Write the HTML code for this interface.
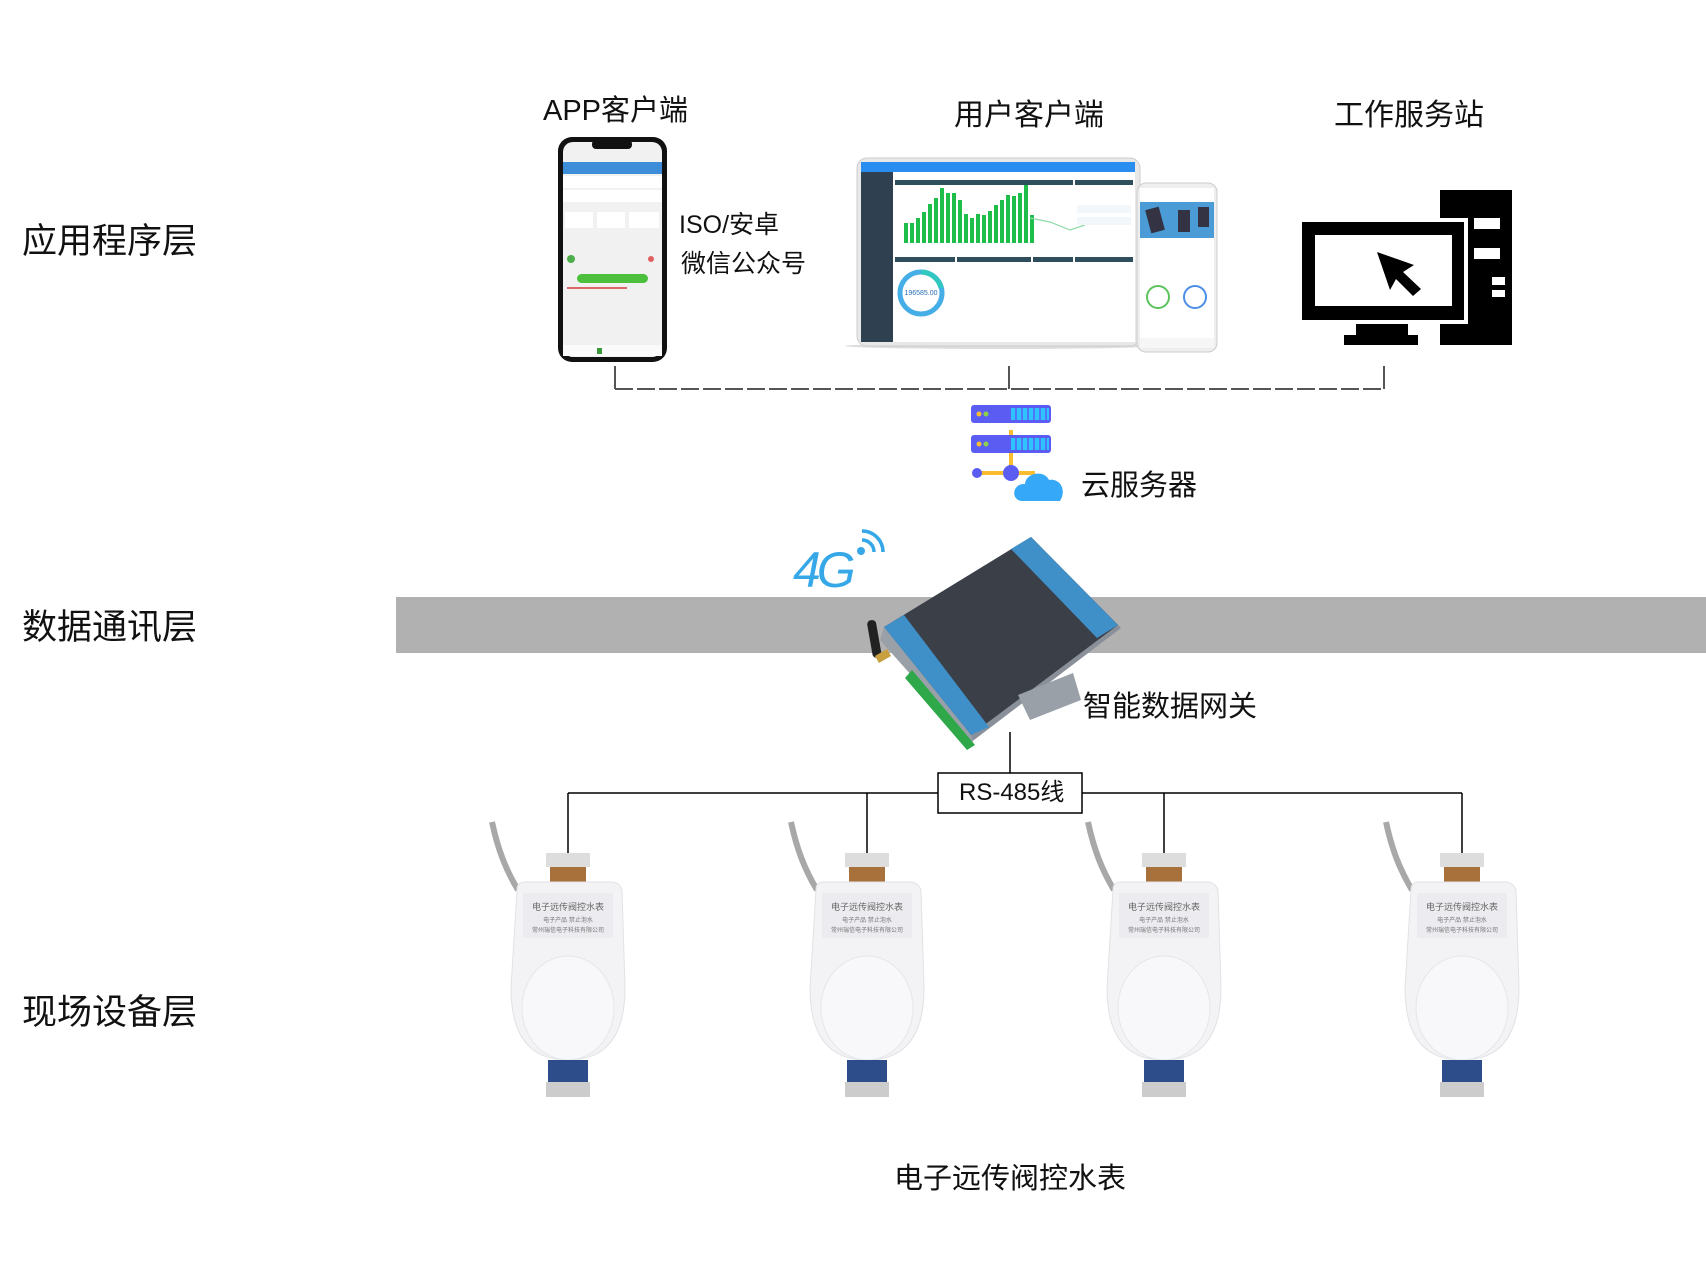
<!DOCTYPE html>
<html><head><meta charset="utf-8">
<style>
html,body{margin:0;padding:0;background:#fff;}
body{width:1706px;height:1279px;position:relative;overflow:hidden;font-family:"Liberation Sans","Noto Sans CJK SC",sans-serif;color:#111;}
.t{position:absolute;white-space:nowrap;line-height:1;}
svg{position:absolute;left:0;top:0;}
</style></head><body>
<svg width="1706" height="1279" viewBox="0 0 1706 1279">
  <rect x="396" y="597" width="1310" height="56" fill="#b1b1b1"/>
  <g stroke="#555" stroke-width="2" fill="none">
    <line x1="615" y1="366" x2="615" y2="389"/>
    <line x1="1009" y1="366" x2="1009" y2="389"/>
    <line x1="1384" y1="366" x2="1384" y2="389"/>
    <line x1="615" y1="389" x2="1384" y2="389" stroke-dasharray="18,4"/>
  </g>
  <rect x="558" y="137" width="109" height="225" rx="14" fill="#111"/>
  <rect x="563" y="142" width="99" height="215" rx="10" fill="#f1f1f1"/>
  <rect x="592" y="140" width="40" height="9" rx="4" fill="#111"/>
  <rect x="563" y="162" width="99" height="12" fill="#3d8ed8"/>
  <rect x="563" y="176" width="99" height="12" fill="#fff"/>
  <rect x="563" y="190" width="99" height="12" fill="#fff"/>
  <rect x="565" y="212" width="28" height="16" fill="#fff"/>
  <rect x="597" y="212" width="28" height="16" fill="#fff"/>
  <rect x="629" y="212" width="30" height="16" fill="#fff"/>
  <circle cx="571" cy="259" r="4" fill="#4cae4c"/>
  <circle cx="651" cy="259" r="3" fill="#e06060"/>
  <rect x="577" y="274" width="71" height="9" rx="4.5" fill="#4cbf3c"/>
  <rect x="567" y="287" width="60" height="2" fill="#d66"/>
  <rect x="563" y="345" width="99" height="11" fill="#fafafa"/>
  <rect x="597" y="348" width="5" height="6" fill="#3a9a3a"/>
  <ellipse cx="1000" cy="346" rx="155" ry="3" fill="#ddd"/>
  <rect x="857" y="158" width="283" height="188" rx="10" fill="#e8e8e8" stroke="#ccc"/>
  <rect x="861" y="162" width="274" height="180" fill="#fff"/>
  <rect x="861" y="162" width="274" height="10" fill="#2a8ef0"/>
  <rect x="861" y="172" width="32" height="170" fill="#2f4050"/>
  <rect x="895" y="180" width="178" height="5" fill="#2f4f5c"/>
  <rect x="1075" y="180" width="58" height="5" fill="#2f4f5c"/>
  <g fill="#1fbe4a">
    <rect x="904" y="223" width="4" height="20"/><rect x="910" y="223" width="4" height="20"/><rect x="916" y="218" width="4" height="25"/>
    <rect x="922" y="212" width="4" height="31"/><rect x="928" y="204" width="4" height="39"/><rect x="934" y="198" width="4" height="45"/>
    <rect x="940" y="188" width="4" height="55"/><rect x="946" y="193" width="4" height="50"/><rect x="952" y="193" width="4" height="50"/>
    <rect x="958" y="200" width="4" height="43"/><rect x="964" y="214" width="4" height="29"/><rect x="970" y="218" width="4" height="25"/>
    <rect x="976" y="214" width="4" height="29"/><rect x="982" y="215" width="4" height="28"/><rect x="988" y="211" width="4" height="32"/>
    <rect x="994" y="205" width="4" height="38"/><rect x="1000" y="200" width="4" height="43"/><rect x="1006" y="195" width="4" height="48"/>
    <rect x="1012" y="196" width="4" height="47"/><rect x="1018" y="193" width="4" height="50"/><rect x="1024" y="185" width="4" height="58"/>
    <rect x="1030" y="215" width="4" height="28"/>
  </g>
  <polyline points="1030,218 1050,222 1070,230 1085,225" fill="none" stroke="#8fd9a8" stroke-width="1.2"/>
  <rect x="895" y="257" width="60" height="5" fill="#2f4f5c"/><rect x="957" y="257" width="74" height="5" fill="#2f4f5c"/>
  <rect x="1033" y="257" width="40" height="5" fill="#2f4f5c"/><rect x="1075" y="257" width="58" height="5" fill="#2f4f5c"/>
  <circle cx="921" cy="293" r="21" fill="none" stroke="#46aee6" stroke-width="5"/>
  <path d="M921 272 A21 21 0 0 1 941 288" fill="none" stroke="#30c8c0" stroke-width="5"/>
  <text x="921" y="295" font-size="7" text-anchor="middle" fill="#2a6fb0">196585.00</text>
  <rect x="1077" y="205" width="54" height="8" fill="#f1f7fb"/><rect x="1077" y="217" width="54" height="8" fill="#f1f7fb"/>
  <rect x="1137" y="183" width="80" height="169" rx="9" fill="#eee" stroke="#ccc"/>
  <rect x="1140" y="188" width="74" height="160" fill="#fff"/>
  <rect x="1140" y="202" width="74" height="36" fill="#4a9bd6"/>
  <rect x="1148" y="208" width="14" height="24" fill="#334" transform="rotate(-15 1155 220)"/>
  <rect x="1178" y="210" width="12" height="22" fill="#334"/>
  <rect x="1198" y="207" width="11" height="20" fill="#334"/>
  <circle cx="1158" cy="297" r="11" fill="none" stroke="#5cc35c" stroke-width="2"/>
  <circle cx="1195" cy="297" r="11" fill="none" stroke="#4a8ee6" stroke-width="2"/>
  <rect x="1140" y="338" width="74" height="10" fill="#f6f6f6"/>
  <g fill="#000">
    <rect x="1440" y="190" width="72" height="155"/>
    <rect x="1298" y="218" width="170" height="106" fill="#fff"/>
    <rect x="1302" y="222" width="162" height="98"/>
    <rect x="1356" y="324" width="52" height="12"/>
    <rect x="1344" y="335" width="74" height="10"/>
  </g>
  <rect x="1315" y="235" width="137" height="71" fill="#fff"/>
  <g fill="#fff">
    <rect x="1474" y="218" width="26" height="11"/><rect x="1474" y="248" width="26" height="11"/>
    <rect x="1492" y="277" width="13" height="8"/><rect x="1492" y="290" width="13" height="7"/>
  </g>
  <polygon points="1377,252 1414,265 1403,272 1421,289 1413,296 1396,279 1390,290" fill="#000"/>
  <line x1="1011" y1="430" x2="1011" y2="470" stroke="#fbbd30" stroke-width="4"/>
  <line x1="976" y1="473" x2="1035" y2="473" stroke="#fbbd30" stroke-width="4"/>
  <rect x="971" y="405" width="80" height="18" rx="3" fill="#5a5cf2"/>
  <rect x="971" y="435" width="80" height="18" rx="3" fill="#5a5cf2"/>
  <g fill="#2ec3ff"><rect x="1011" y="408" width="38" height="12"/><rect x="1011" y="438" width="38" height="12"/></g>
  <g stroke="#5a5cf2" stroke-width="1.5"><line x1="1016" y1="408" x2="1016" y2="420"/><line x1="1022" y1="408" x2="1022" y2="420"/><line x1="1028" y1="408" x2="1028" y2="420"/><line x1="1034" y1="408" x2="1034" y2="420"/><line x1="1040" y1="408" x2="1040" y2="420"/><line x1="1046" y1="408" x2="1046" y2="420"/>
  <line x1="1016" y1="438" x2="1016" y2="450"/><line x1="1022" y1="438" x2="1022" y2="450"/><line x1="1028" y1="438" x2="1028" y2="450"/><line x1="1034" y1="438" x2="1034" y2="450"/><line x1="1040" y1="438" x2="1040" y2="450"/><line x1="1046" y1="438" x2="1046" y2="450"/></g>
  <circle cx="979" cy="414" r="2.5" fill="#fbbd30"/><circle cx="986" cy="414" r="2.5" fill="#8bd14a"/>
  <circle cx="979" cy="444" r="2.5" fill="#fbbd30"/><circle cx="986" cy="444" r="2.5" fill="#8bd14a"/>
  <circle cx="977" cy="473" r="5" fill="#5a5cf2"/><circle cx="1011" cy="473" r="8" fill="#5a5cf2"/>
  <path d="M1023 501 C1010 501 1012 483 1025 484 C1026 472 1045 470 1049 480 C1060 478 1067 490 1060 501 Z" fill="#35a8f8"/>
  <text x="793" y="587" font-size="50" font-style="italic" fill="#36a8e8" font-family="Liberation Sans,sans-serif" letter-spacing="-4">4G</text>
  <circle cx="861" cy="551" r="4" fill="#36a8e8"/>
  <path d="M862 540 A12 12 0 0 1 874 552" fill="none" stroke="#36a8e8" stroke-width="3.5"/>
  <path d="M862 531 A21 21 0 0 1 883 552" fill="none" stroke="#36a8e8" stroke-width="3.5"/>
  <polygon points="884,627 1031,537 1121,628 974,740 968,744" fill="#8a9099"/>
  <polygon points="884,627 1031,537 1118,625 971,735" fill="#3b3f48"/>
  <polygon points="884,627 904,615 989,727 971,735" fill="#3f8fc8"/>
  <polygon points="1011,549 1031,537 1118,625 1097,638" fill="#3f8fc8"/>
  <polygon points="884,627 971,735 974,746 880,640" fill="#9aa0a8"/>
  <polygon points="912,670 975,745 967,750 905,678" fill="#2fa84a"/>
  <polygon points="1018,695 1073,673 1081,700 1030,720" fill="#9aa0a8"/>
  <rect x="870" y="620" width="9" height="38" rx="4" fill="#222" transform="rotate(-10 874 640)"/>
  <rect x="876" y="652" width="14" height="8" fill="#c9a040" transform="rotate(-30 883 656)"/>
  <g stroke="#000" stroke-width="1.5" fill="none">
    <line x1="1010" y1="732" x2="1010" y2="773"/>
    <line x1="568" y1="793" x2="938" y2="793"/>
    <line x1="1082" y1="793" x2="1462" y2="793"/>
    <line x1="568" y1="793" x2="568" y2="853"/>
    <line x1="867" y1="793" x2="867" y2="853"/>
    <line x1="1164" y1="793" x2="1164" y2="853"/>
    <line x1="1462" y1="793" x2="1462" y2="853"/>
  </g>
  <rect x="938" y="773" width="144" height="40" fill="#fff" stroke="#000" stroke-width="1.5"/>
  <defs>
    <g id="m">
      <path d="M-76 62 C-70 90 -62 110 -50 130" stroke="#a8a8a8" stroke-width="6" fill="none"/>
      <rect x="-22" y="93" width="44" height="14" fill="#ddd"/>
      <rect x="-18" y="107" width="36" height="20" fill="#a8703a"/>
      <path d="M-51 130 Q-51 122 -43 122 L43 122 Q51 122 54 130 L57 228 Q57 300 0 300 Q-57 300 -57 228 Z" fill="#f3f3f5" stroke="#e2e2e6"/>
      <rect x="-45" y="133" width="90" height="45" fill="#ececf0"/>
      <text x="0" y="150" font-size="9" text-anchor="middle" fill="#666">电子远传阀控水表</text>
      <text x="0" y="162" font-size="6" text-anchor="middle" fill="#777">电子产品 禁止泡水</text>
      <text x="0" y="172" font-size="6" text-anchor="middle" fill="#777">常州瑞信电子科技有限公司</text>
      <ellipse cx="0" cy="248" rx="46" ry="52" fill="#f8f8fa" stroke="#e6e6ea"/>
      <rect x="-20" y="300" width="40" height="22" fill="#2d4c8a"/>
      <rect x="-22" y="322" width="44" height="15" fill="#ccc"/>
    </g>
  </defs>
  <use href="#m" transform="translate(568,760)"/>
  <use href="#m" transform="translate(867,760)"/>
  <use href="#m" transform="translate(1164,760)"/>
  <use href="#m" transform="translate(1462,760)"/>
</svg>
<div class="t" style="left:22px;top:224px;font-size:35px;">应用程序层</div>
<div class="t" style="left:22px;top:610px;font-size:35px;">数据通讯层</div>
<div class="t" style="left:22px;top:995px;font-size:35px;">现场设备层</div>
<div class="t" style="left:543px;top:97px;font-size:29px;">APP客户端</div>
<div class="t" style="left:954px;top:101px;font-size:30px;">用户客户端</div>
<div class="t" style="left:1334px;top:101px;font-size:30px;">工作服务站</div>
<div class="t" style="left:679px;top:213px;font-size:25px;">ISO/安卓</div>
<div class="t" style="left:681px;top:252px;font-size:25px;">微信公众号</div>
<div class="t" style="left:1081px;top:472px;font-size:29px;">云服务器</div>
<div class="t" style="left:1083px;top:693px;font-size:29px;">智能数据网关</div>
<div class="t" style="left:959px;top:781px;font-size:24px;">RS-485线</div>
<div class="t" style="left:894px;top:1165px;font-size:29px;">电子远传阀控水表</div>
</body></html>
